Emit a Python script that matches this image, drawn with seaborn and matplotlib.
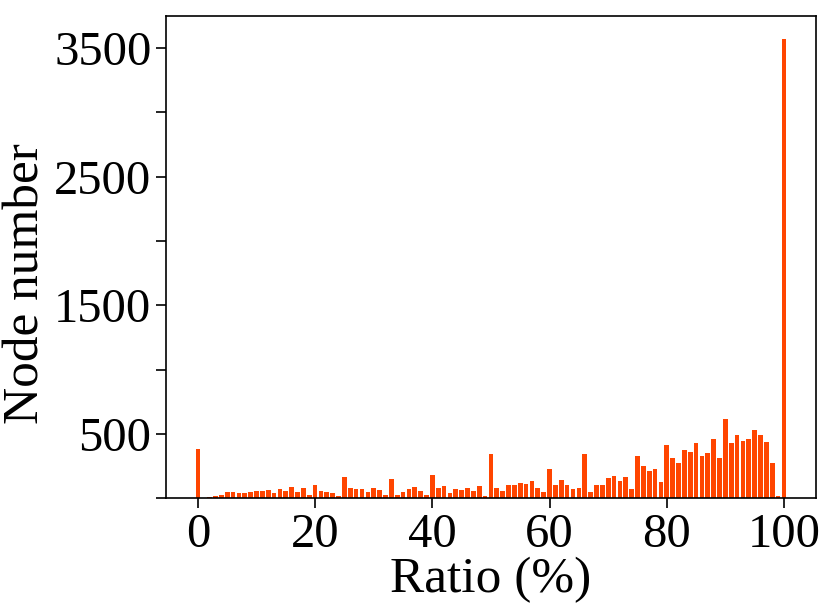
import numpy as np
import pandas as pd
import seaborn as sns
from matplotlib import pyplot as plt

# ratio (%) 0..100 and number of nodes in each bin
ratio = list(range(0, 101))
nodes = [
    386, 0, 10, 16, 26, 52, 52, 41, 41, 52,
    60, 54, 67, 44, 75, 60, 85, 49, 83, 28,
    101, 60, 49, 41, 21, 163, 78, 70, 75, 49,
    78, 67, 28, 150, 23, 52, 75, 88, 60, 28,
    184, 80, 96, 44, 72, 67, 83, 57, 96, 18,
    347, 80, 57, 104, 104, 122, 111, 137, 83, 52,
    228, 104, 145, 106, 75, 83, 347, 52, 106, 106,
    161, 176, 137, 168, 75, 329, 254, 215, 230, 127,
    417, 313, 277, 378, 360, 433, 329, 355, 464, 316,
    617, 433, 492, 443, 464, 531, 492, 440, 277, 18,
    3570,
]
x_ticks = [0, 20, 40, 60, 80, 100]
y_ticks = [0, 500, 1000, 1500, 2000, 2500, 3000, 3500]
y_labels = ["", "500", "", "1500", "", "2500", "", "3500"]

df = pd.DataFrame({"ratio": ratio, "nodes": nodes})

sns.set_style("ticks")
plt.rcParams["font.family"] = ["Liberation Serif", "DejaVu Serif"]
plt.rcParams["text.color"] = "black"
plt.rcParams["axes.labelcolor"] = "black"
plt.rcParams["xtick.color"] = "black"
plt.rcParams["ytick.color"] = "black"
plt.rcParams["axes.edgecolor"] = "black"

fig, ax = plt.subplots(figsize=(8.3, 6.16), dpi=100)
# all ratios present, so category index == ratio value
sns.barplot(data=df, x="ratio", y="nodes", order=ratio, color="#ff4500",
            saturation=1, width=0.8, linewidth=0, ax=ax)

ax.set_xlim(-5.44, 105.44)
ax.set_ylim(0, 3750)
ax.set_xticks(x_ticks)
ax.set_xticklabels([str(t) for t in x_ticks])
ax.set_yticks(y_ticks)
ax.set_yticklabels(y_labels)
ax.tick_params(labelsize=35, length=7, width=1.2, direction="out")
ax.set_xlabel("Ratio (%)", fontsize=37, labelpad=0)
ax.set_ylabel("Node number", fontsize=37)
ax.yaxis.set_label_coords(-0.18, 0.446)
for s in ax.spines.values():
    s.set_visible(True)
    s.set_linewidth(1.2)

plt.subplots_adjust(left=0.2, right=0.983, top=0.974, bottom=0.191)
plt.savefig("out.png")
